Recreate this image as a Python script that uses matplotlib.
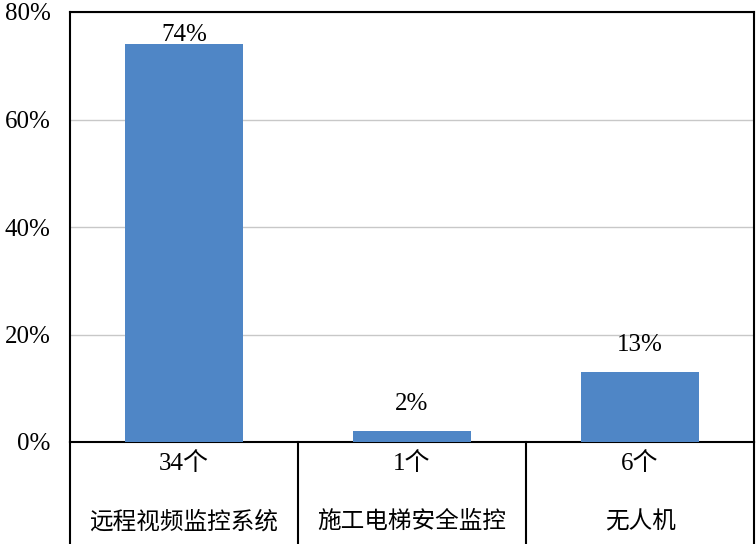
import matplotlib.pyplot as plt
from matplotlib.lines import Line2D

plt.rcParams['font.family'] = ['Liberation Serif', 'Noto Sans CJK SC']

categories = ["远程视频监控系统", "施工电梯安全监控", "无人机"]
counts = ["34个", "1个", "6个"]
percents = [74, 2, 13]
ticks = [0, 20, 40, 60, 80]

fig = plt.figure(figsize=(7.56, 5.44), dpi=100)
W, H = 756, 544
left, right, top, bottom = 70, 754, 12, 442
ax = fig.add_axes([left / W, 1 - bottom / H, (right - left) / W, (bottom - top) / H])

x = range(len(categories))
ax.bar(x, percents, width=0.52, color='#4F86C6', zorder=3)
ax.set_xlim(-0.5, len(categories) - 0.5)
ax.set_ylim(0, 80)
ax.set_yticks(ticks)
ax.set_yticklabels([f"{t}%" for t in ticks], fontsize=18)
ax.tick_params(axis='y', length=0, pad=14)
ax.set_xticks([])
ax.yaxis.grid(True, color='#c8c8c8', lw=1, zorder=0)
for s in ax.spines.values():
    s.set_color('black')
    s.set_linewidth(1.5)

for i, v in enumerate(percents):
    off = 1.7 if v > 70 else 5
    ax.text(i, v + off, f"{v}%", ha='center', va='center', fontsize=18, zorder=2)

# table under the axis
xs = [left, 298, 526, right]
for xx in xs:
    fig.add_artist(Line2D([xx / W, xx / W], [0, 1 - bottom / H], color='black', lw=1.5))
for i in range(len(categories)):
    cx = (xs[i] + xs[i + 1]) / 2 / W
    fig.text(cx, 1 - 464 / H, counts[i], ha='center', va='center', fontsize=18)
    fig.text(cx, 1 - 522 / H, categories[i], ha='center', va='center', fontsize=17)

fig.savefig('out.png', dpi=100)
